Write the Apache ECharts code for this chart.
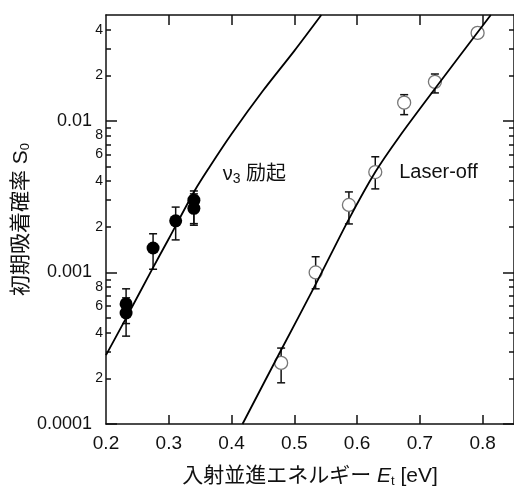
<!DOCTYPE html>
<html><head><meta charset="utf-8">
<script src="https://cdn.jsdelivr.net/npm/echarts@6/dist/echarts.min.js"></script>
<style>html,body{margin:0;padding:0;background:#fff}#c{width:514px;height:486px}</style>
</head><body><div id="c"></div>
<script>
// ---- data ----
const xTickValues = [0.3, 0.4, 0.5, 0.6, 0.7, 0.8];
const xLabelValues = [0.2, 0.3, 0.4, 0.5, 0.6, 0.7, 0.8];
const yMajorValues = [0.0001, 0.001, 0.01];
const yMinorTickValues = [0.0002,0.0003,0.0004,0.0005,0.0006,0.0007,0.0008,0.0009,
  0.002,0.003,0.004,0.005,0.006,0.007,0.008,0.009,0.02,0.03,0.04];
const yMinorLabelValues = [0.0002,0.0004,0.0006,0.0008,0.002,0.004,0.006,0.008,0.02,0.04];

// ν3 excitation (filled)
const v3X  = [0.232, 0.232, 0.275, 0.311, 0.34, 0.34];
const v3Y  = [6.2e-4, 5.4e-4, 1.45e-3, 2.19e-3, 3.0e-3, 2.65e-3];
const v3Lo = [4.6e-4, 3.8e-4, 1.05e-3, 1.64e-3, 2.1e-3, 2.05e-3];
const v3Hi = [7.8e-4, 6.8e-4, 1.8e-3, 2.7e-3, 3.45e-3, 3.3e-3];

// Laser-off (open)
const offX  = [0.479, 0.534, 0.587, 0.629, 0.675, 0.724, 0.792];
const offY  = [2.53e-4, 1.0e-3, 2.79e-3, 4.6e-3, 1.32e-2, 1.81e-2, 3.81e-2];
const offLo = [1.87e-4, 7.8e-4, 2.09e-3, 3.56e-3, 1.1e-2, 1.53e-2, null];
const offHi = [3.17e-4, 1.27e-3, 3.4e-3, 5.8e-3, 1.49e-2, 2.04e-2, null];

// fitted curves
const v3CurveX = [0.2, 0.232, 0.273, 0.3, 0.341, 0.365, 0.4, 0.45, 0.5, 0.543];
const v3CurveY = [2.85e-4, 5.0e-4, 1.04e-3, 1.67e-3, 3.45e-3, 4.97e-3, 8.2e-3, 1.58e-2, 2.9e-2, 5.0e-2];
const offCurveX = [0.4175, 0.479, 0.535, 0.587, 0.629, 0.667, 0.724, 0.813];
const offCurveY = [1.0e-4, 3.08e-4, 8.5e-4, 2.25e-3, 4.6e-3, 7.84e-3, 1.63e-2, 5.0e-2];

// annotations
const annV3 = [0.386, 4.45e-3];
const annOff = [0.667, 4.6e-3];

// ---- chart ----
const FONT = "'Liberation Sans', 'Noto Sans CJK JP', sans-serif";
const INK = '#111';
const zip = (a, b) => a.map((v, i) => [v, b[i]]);
const zip3 = (a, b, c) => a.map((v, i) => [v, b[i], c[i]]).filter(d => d[1] != null && d[2] != null);

function renderErr(params, api) {
  const x = api.value(0), lo = api.value(1), hi = api.value(2);
  const p1 = api.coord([x, lo]), p2 = api.coord([x, hi]);
  const w = 4;
  const st = { stroke: INK, lineWidth: 1.5 };
  return { type: 'group', children: [
    { type: 'line', shape: { x1: p1[0], y1: p1[1], x2: p2[0], y2: p2[1] }, style: st },
    { type: 'line', shape: { x1: p1[0] - w, y1: p1[1], x2: p1[0] + w, y2: p1[1] }, style: st },
    { type: 'line', shape: { x1: p2[0] - w, y1: p2[1], x2: p2[0] + w, y2: p2[1] }, style: st }
  ]};
}

const axLine = { show: true, lineStyle: { color: INK, width: 1.5 } };
const yBase = { type: 'log', min: 0.0001, max: 0.05, splitLine: { show: false } };
const majorFmt = v => String(v);
const minorFmt = v => String(Math.round(v / Math.pow(10, Math.floor(Math.log10(v) + 1e-9))));

const chart = echarts.init(document.getElementById('c'));
chart.setOption({
  animation: false,
  backgroundColor: '#fff',
  textStyle: { fontFamily: FONT },
  grid: { left: 106, right: 0, top: 15, bottom: 62, containLabel: false, outerBoundsMode: 'none' },
  xAxis: [
    { type: 'value', min: 0.2, max: 0.85, position: 'bottom', splitLine: { show: false },
      axisLine: axLine,
      axisTick: { inside: true, length: 9, lineStyle: { color: INK, width: 1.5 }, customValues: xTickValues },
      axisLabel: { color: INK, fontSize: 19, margin: 10, fontFamily: FONT, customValues: xLabelValues, formatter: v => v.toFixed(1) },
      name: '入射並進エネルギー {i|E}{s|t} [eV]', nameLocation: 'middle', nameGap: 41, nameMoveOverlap: false,
      nameTextStyle: { color: INK, fontSize: 21, fontFamily: FONT,
        rich: { i: { fontStyle: 'italic', fontSize: 21, fontFamily: FONT, color: INK },
                s: { fontSize: 13, verticalAlign: 'bottom', padding: [10, 0, 0, 0], fontFamily: FONT, color: INK } } }
    },
    { type: 'value', min: 0.2, max: 0.85, position: 'top', splitLine: { show: false },
      axisLine: axLine,
      axisTick: { inside: true, length: 10, lineStyle: { color: INK, width: 1.5 }, customValues: xTickValues },
      axisLabel: { show: false }
    }
  ],
  yAxis: [
    Object.assign({}, yBase, { position: 'left', axisLine: axLine,
      axisTick: { inside: true, length: 11, lineStyle: { color: INK, width: 1.5 }, customValues: yMajorValues },
      axisLabel: { color: INK, fontSize: 18, margin: 14, fontFamily: FONT, customValues: yMajorValues, formatter: majorFmt },
      name: '初期吸着確率 {i|S}{s|0}', nameLocation: 'middle', nameGap: 74, nameMoveOverlap: false,
      nameTextStyle: { color: INK, fontSize: 21, fontFamily: FONT,
        rich: { i: { fontSize: 21, fontFamily: FONT, color: INK },
                s: { fontSize: 13, verticalAlign: 'bottom', padding: [8, 0, 0, 0], fontFamily: FONT, color: INK } } }
    }),
    Object.assign({}, yBase, { position: 'left', axisLine: { show: false },
      axisTick: { inside: true, length: 5, lineStyle: { color: INK, width: 1.5 }, customValues: yMinorTickValues },
      axisLabel: { color: INK, fontSize: 14, margin: 3, fontFamily: FONT, customValues: yMinorLabelValues, formatter: minorFmt }
    }),
    Object.assign({}, yBase, { position: 'right', axisLine: axLine,
      axisTick: { inside: true, length: 11, lineStyle: { color: INK, width: 1.5 }, customValues: yMajorValues },
      axisLabel: { show: false }
    }),
    Object.assign({}, yBase, { position: 'right', axisLine: { show: false },
      axisTick: { inside: true, length: 5, lineStyle: { color: INK, width: 1.5 }, customValues: yMinorTickValues },
      axisLabel: { show: false }
    })
  ],
  series: [
    { type: 'custom', name: 'errV3', renderItem: renderErr, data: zip3(v3X, v3Lo, v3Hi),
      encode: { x: 0, y: [1, 2] }, z: 2, silent: true },
    { type: 'custom', name: 'errOff', renderItem: renderErr, data: zip3(offX, offLo, offHi),
      encode: { x: 0, y: [1, 2] }, z: 2, silent: true },
    { type: 'scatter', name: 'v3', data: zip(v3X, v3Y), symbol: 'circle', symbolSize: 13,
      itemStyle: { color: '#000', opacity: 1 }, z: 3 },
    { type: 'scatter', name: 'off', data: zip(offX, offY), symbol: 'circle', symbolSize: 13,
      itemStyle: { color: '#fff', borderColor: '#777', borderWidth: 1.3, opacity: 1 }, z: 3 },
    { type: 'line', name: 'fitV3', data: zip(v3CurveX, v3CurveY), smooth: 0.3, showSymbol: false,
      lineStyle: { color: '#000', width: 1.8 }, clip: true, z: 4 },
    { type: 'line', name: 'fitOff', data: zip(offCurveX, offCurveY), smooth: 0.3, showSymbol: false,
      lineStyle: { color: '#000', width: 1.8 }, clip: true, z: 4 },
    { type: 'scatter', name: 'ann', symbolSize: 0, z: 5, silent: true,
      itemStyle: { opacity: 1 },
      data: [
        { value: annV3, label: { show: true, position: 'right', distance: 0, opacity: 1,
          formatter: '{a|ν}{s|3}{a| 励起}',
          rich: { a: { fontSize: 20, color: INK, fontFamily: FONT },
                  s: { fontSize: 14, color: INK, verticalAlign: 'bottom', padding: [10, 0, 0, 0], fontFamily: FONT } } } },
        { value: annOff, label: { show: true, position: 'right', distance: 0, opacity: 1,
          formatter: 'Laser-off', fontSize: 20, color: INK, fontFamily: FONT } }
      ] }
  ]
});
</script></body></html>
